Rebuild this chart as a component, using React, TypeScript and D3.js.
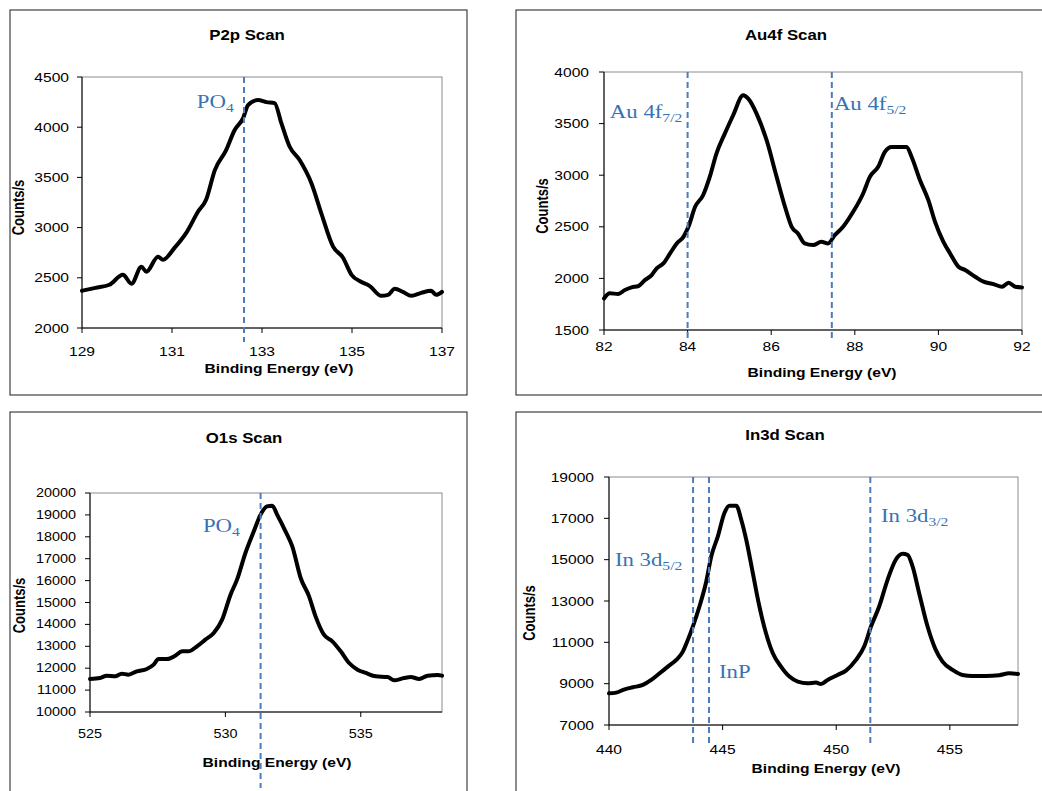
import React from 'react';
import * as d3 from 'd3';

// P2p scan
const p2pEnergy = [129.0, 129.3, 129.61, 129.91, 130.1, 130.32, 130.43, 130.69, 130.8, 131.06, 131.32, 131.58, 131.76, 131.95, 132.2, 132.39, 132.58, 132.69, 132.91, 133.1, 133.28, 133.43, 133.61, 133.84, 134.1, 134.32, 134.58, 134.8, 134.99, 135.2, 135.39, 135.65, 135.8, 135.95, 136.13, 136.32, 136.54, 136.76, 136.87, 137.0];
const p2pCounts = [2371, 2400, 2431, 2530, 2440, 2610, 2560, 2710, 2680, 2800, 2950, 3160, 3280, 3570, 3770, 3970, 4090, 4220, 4270, 4250, 4240, 4040, 3810, 3670, 3440, 3140, 2810, 2700, 2530, 2460, 2420, 2320, 2330, 2390, 2360, 2320, 2350, 2370, 2330, 2360];

// Au4f scan
const au4fEnergy = [82.0, 82.14, 82.34, 82.5, 82.66, 82.82, 82.98, 83.14, 83.26, 83.42, 83.58, 83.74, 83.9, 84.02, 84.18, 84.37, 84.53, 84.69, 84.89, 85.09, 85.33, 85.45, 85.65, 85.89, 86.13, 86.33, 86.49, 86.64, 86.8, 87.0, 87.2, 87.36, 87.52, 87.72, 87.96, 88.2, 88.36, 88.56, 88.72, 88.88, 89.08, 89.24, 89.36, 89.56, 89.76, 89.92, 90.12, 90.28, 90.48, 90.64, 90.88, 91.08, 91.32, 91.52, 91.68, 91.84, 92.0];
const au4fCounts = [1806, 1855, 1850, 1887, 1913, 1926, 1984, 2032, 2097, 2145, 2242, 2339, 2403, 2500, 2694, 2806, 2984, 3210, 3403, 3581, 3774, 3742, 3597, 3339, 2984, 2694, 2500, 2435, 2339, 2323, 2355, 2339, 2419, 2500, 2645, 2823, 2984, 3081, 3226, 3274, 3274, 3274, 3177, 2952, 2758, 2548, 2355, 2242, 2113, 2081, 2016, 1968, 1945, 1919, 1958, 1919, 1913];

// O1s scan
const o1sEnergy = [525.0, 525.37, 525.62, 525.93, 526.17, 526.42, 526.73, 527.1, 527.35, 527.53, 527.84, 528.15, 528.4, 528.64, 528.95, 529.26, 529.57, 529.88, 530.19, 530.43, 530.74, 531.05, 531.3, 531.54, 531.73, 531.91, 532.22, 532.47, 532.78, 533.09, 533.33, 533.64, 533.95, 534.26, 534.57, 534.88, 535.19, 535.56, 535.99, 536.23, 536.6, 536.85, 537.16, 537.47, 537.84, 538.0];
const o1sCounts = [11507, 11553, 11659, 11629, 11750, 11705, 11857, 11963, 12162, 12420, 12420, 12572, 12770, 12770, 12999, 13303, 13607, 14216, 15358, 16043, 17260, 18250, 19011, 19391, 19422, 19011, 18250, 17565, 16119, 15282, 14368, 13531, 13227, 12770, 12237, 11933, 11781, 11629, 11598, 11446, 11553, 11598, 11507, 11659, 11690, 11659];

// In3d scan
const in3dEnergy = [440.0, 440.32, 440.69, 441.05, 441.49, 441.86, 442.23, 442.59, 442.96, 443.25, 443.47, 443.69, 443.98, 444.28, 444.5, 444.79, 445.08, 445.3, 445.6, 445.82, 446.04, 446.33, 446.62, 446.91, 447.21, 447.57, 447.94, 448.31, 448.74, 449.11, 449.33, 449.62, 450.06, 450.43, 450.87, 451.23, 451.53, 451.89, 452.26, 452.62, 452.92, 453.14, 453.36, 453.65, 454.02, 454.38, 454.68, 455.12, 455.56, 456.0, 456.58, 457.17, 457.61, 458.0];
const in3dCounts = [8534, 8567, 8728, 8825, 8938, 9180, 9503, 9826, 10150, 10553, 11119, 11764, 12733, 13945, 15156, 16125, 17256, 17611, 17611, 16933, 15964, 14349, 12733, 11441, 10473, 9826, 9342, 9100, 9019, 9051, 8987, 9180, 9423, 9633, 10150, 10795, 11764, 12733, 14026, 14995, 15285, 15237, 14672, 13380, 11764, 10634, 10069, 9665, 9423, 9374, 9374, 9406, 9503, 9471];

const p2pXTicks = [129, 131, 133, 135, 137];
const p2pYTicks = [2000, 2500, 3000, 3500, 4000, 4500];
const au4fXTicks = [82, 84, 86, 88, 90, 92];
const au4fYTicks = [1500, 2000, 2500, 3000, 3500, 4000];
const o1sXTicks = [525, 530, 535];
const o1sYTicks = d3.range(10000, 20001, 1000);
const in3dXTicks = [440, 445, 450, 455];
const in3dYTicks = [7000, 9000, 11000, 13000, 15000, 17000, 19000];

const p2pMarkers = [132.6];
const au4fMarkers = [84, 87.45];
const o1sMarkers = [531.3];
const in3dMarkers = [443.7, 444.4, 451.5];

const p2pLabels = [{ main: 'PO', sub: '4', x: 131.55, y: 4190 }];
const au4fLabels = [
  { main: 'Au 4f', sub: '7/2', x: 82.14, y: 3554 },
  { main: 'Au 4f', sub: '5/2', x: 87.5, y: 3632 },
];
const o1sLabels = [{ main: 'PO', sub: '4', x: 529.17, y: 18220 }];
const in3dLabels = [
  { main: 'In 3d', sub: '5/2', x: 440.26, y: 14694 },
  { main: 'InP', sub: '', x: 444.84, y: 9274 },
  { main: 'In 3d', sub: '3/2', x: 451.97, y: 16823 },
];

const SX = 1.2; // source image is stretched horizontally
const SANS = 'Arial, "Liberation Sans", sans-serif';
const SERIF = '"Times New Roman", "Liberation Serif", serif';
const BLUE = '#3673b5';
const DASH = '#4a7dbb';

const SText = ({ x, y, anchor = 'start', size, bold = false, family = SANS, fill = '#000', rotate = 0, baseline = 'auto', children }: any) => (
  <g transform={`translate(${x},${y}) scale(${SX},1)${rotate ? ` rotate(${rotate})` : ''}`}>
    <text textAnchor={anchor} fontSize={size} fontWeight={bold ? 'bold' : 'normal'} fontFamily={family} fill={fill} dominantBaseline={baseline}>
      {children}
    </text>
  </g>
);

const Panel = ({ p }: any) => {
  const x = d3.scaleLinear().domain(p.xDomain).range([p.plot.x0, p.plot.x1]);
  const y = d3.scaleLinear().domain(p.yDomain).range([p.plot.y1, p.plot.y0]);
  const pts = p.energy.map((e: number, i: number) => [e, p.counts[i]]);
  const line = d3.line<any>().x((d) => x(d[0])).y((d) => y(d[1])).curve(d3.curveMonotoneX);
  const fmt = d3.format('d');
  return (
    <g>
      <rect x={p.box.x} y={p.box.y} width={p.box.w} height={p.box.h} fill="#fff" stroke="#1a1a1a" strokeWidth={1} />
      <SText x={p.titleX} y={p.titleY} anchor="middle" size={14} bold>{p.title}</SText>
      <rect x={p.plot.x0} y={p.plot.y0} width={p.plot.x1 - p.plot.x0} height={p.plot.y1 - p.plot.y0} fill="#fff" stroke="#8c8c8c" strokeWidth={1} />
      <line x1={p.plot.x0} x2={p.plot.x0} y1={p.plot.y0} y2={p.plot.y1} stroke="#000" />
      <line x1={p.plot.x0} x2={p.plot.x1} y1={p.plot.y1} y2={p.plot.y1} stroke="#000" />
      {p.yTicks.map((t: number) => (
        <g key={'y' + t}>
          <line x1={p.plot.x0 - 5} x2={p.plot.x0} y1={y(t)} y2={y(t)} stroke="#000" />
          <SText x={p.plot.x0 - p.yLabelGap} y={y(t)} anchor="end" size={p.tickSize} baseline="central">{fmt(t)}</SText>
        </g>
      ))}
      {p.xTicks.map((t: number) => (
        <g key={'x' + t}>
          <line x1={x(t)} x2={x(t)} y1={p.plot.y1} y2={p.plot.y1 + 5} stroke="#000" />
          <SText x={x(t)} y={p.xTickY} anchor="middle" size={p.tickSize}>{fmt(t)}</SText>
        </g>
      ))}
      <SText x={p.xTitleX} y={p.xTitleY} anchor="middle" size={13} bold>{p.xTitle}</SText>
      <SText x={p.yTitleX} y={(p.plot.y0 + p.plot.y1) / 2 + p.yTitleDy} anchor="middle" size={13} bold rotate={-90}>Counts/s</SText>
      <path d={line(pts) || ''} fill="none" stroke="#000" strokeWidth={4} strokeLinejoin="round" strokeLinecap="round" />
      {p.markers.map((m: number) => (
        <line key={'m' + m} x1={x(m)} x2={x(m)} y1={p.plot.y0} y2={p.plot.y1 + p.dashExtend} stroke={DASH} strokeWidth={2} strokeDasharray="6,4" />
      ))}
      {p.labels.map((l: any, i: number) => (
        <SText key={'l' + i} x={x(l.x)} y={y(l.y)} size={19} family={SERIF} fill={BLUE}>
          {l.main}
          {l.sub ? <tspan fontSize={13} dy={4}>{l.sub}</tspan> : null}
        </SText>
      ))}
    </g>
  );
};

const panels = [
  {
    title: 'P2p Scan', titleX: 247, titleY: 40,
    box: { x: 10, y: 10, w: 457, h: 385 },
    plot: { x0: 82, x1: 442, y0: 77, y1: 328 },
    xDomain: [129, 137], yDomain: [2000, 4500],
    xTicks: p2pXTicks, yTicks: p2pYTicks, tickSize: 13, yLabelGap: 13, xTickY: 356,
    xTitle: 'Binding Energy (eV)', xTitleX: 279, xTitleY: 373, yTitleX: 24, yTitleDy: 5,
    energy: p2pEnergy, counts: p2pCounts, markers: p2pMarkers, dashExtend: 14, labels: p2pLabels,
  },
  {
    title: 'Au4f Scan', titleX: 786, titleY: 40,
    box: { x: 516, y: 10, w: 540, h: 385 },
    plot: { x0: 604, x1: 1022, y0: 72, y1: 330 },
    xDomain: [82, 92], yDomain: [1500, 4000],
    xTicks: au4fXTicks, yTicks: au4fYTicks, tickSize: 13, yLabelGap: 15, xTickY: 351,
    xTitle: 'Binding Energy  (eV)', xTitleX: 822, xTitleY: 377, yTitleX: 548, yTitleDy: 5,
    energy: au4fEnergy, counts: au4fCounts, markers: au4fMarkers, dashExtend: 12, labels: au4fLabels,
  },
  {
    title: 'O1s Scan', titleX: 244, titleY: 443,
    box: { x: 10, y: 412, w: 457, h: 400 },
    plot: { x0: 90, x1: 442, y0: 493, y1: 712 },
    xDomain: [525, 538], yDomain: [10000, 20000],
    xTicks: o1sXTicks, yTicks: o1sYTicks, tickSize: 12, yLabelGap: 14, xTickY: 738,
    xTitle: 'Binding Energy (eV)', xTitleX: 277, xTitleY: 767, yTitleX: 25, yTitleDy: 3,
    energy: o1sEnergy, counts: o1sCounts, markers: o1sMarkers, dashExtend: 76, labels: o1sLabels,
  },
  {
    title: 'In3d Scan', titleX: 785, titleY: 440,
    box: { x: 516, y: 412, w: 540, h: 400 },
    plot: { x0: 609, x1: 1018, y0: 477, y1: 725 },
    xDomain: [440, 458], yDomain: [7000, 19000],
    xTicks: in3dXTicks, yTicks: in3dYTicks, tickSize: 13, yLabelGap: 15, xTickY: 754,
    xTitle: 'Binding Energy  (eV)', xTitleX: 826, xTitleY: 773, yTitleX: 535, yTitleDy: 12,
    energy: in3dEnergy, counts: in3dCounts, markers: in3dMarkers, dashExtend: 20, labels: in3dLabels,
  },
];

export default function App() {
  return (
    <div style={{ position: 'absolute', left: 0, top: 0 }}>
      <svg width={1042} height={791} style={{ display: 'block', background: '#fff' }}>
        {panels.map((p, i) => (
          <Panel key={i} p={p} />
        ))}
      </svg>
    </div>
  );
}
